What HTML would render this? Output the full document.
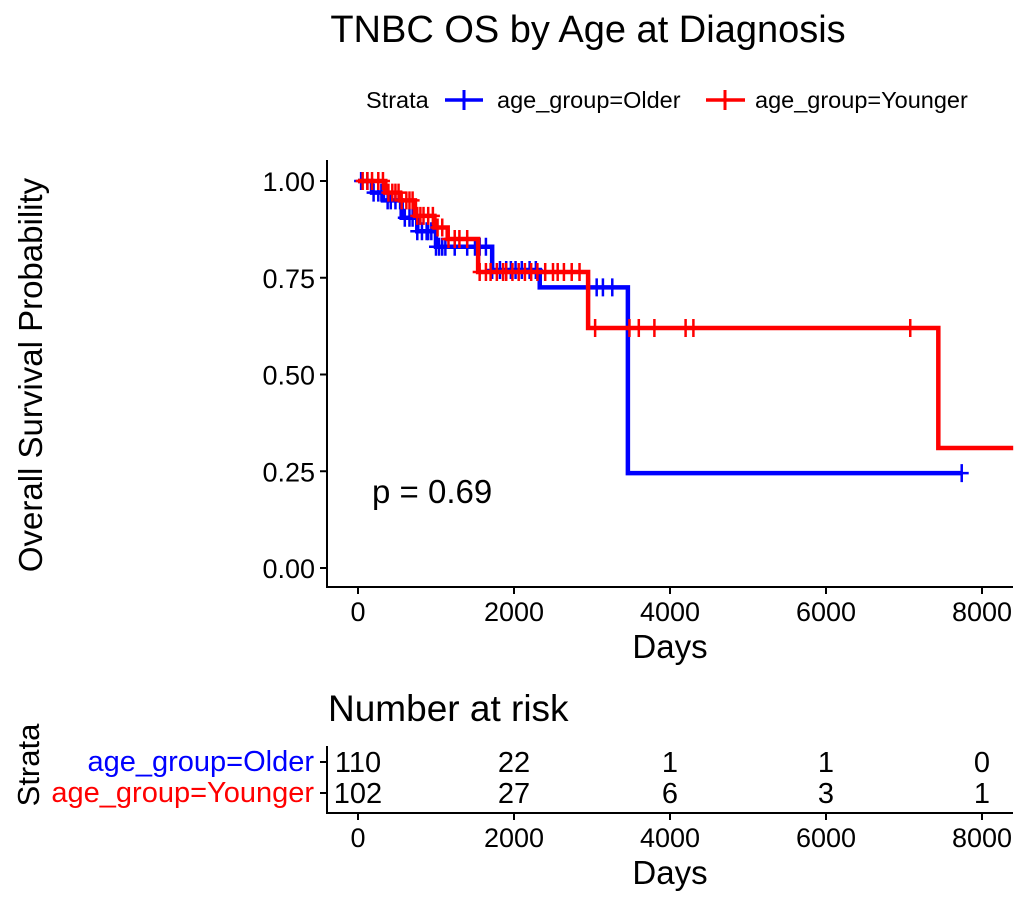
<!DOCTYPE html>
<html><head><meta charset="utf-8"><style>
body{margin:0;background:#fff;font-family:"Liberation Sans",Arial,sans-serif}
svg text{font-family:"Liberation Sans",Arial,sans-serif}
</style></head><body>
<svg id="c" width="1027" height="905" viewBox="0 0 1027 905">
<text x="588" y="42" font-size="38" text-anchor="middle">TNBC OS by Age at Diagnosis</text>
<g font-size="23.5">
<text x="366" y="108">Strata</text>
<g><line x1="445" y1="100" x2="483" y2="100" stroke="#00f" stroke-width="3.5"/><line x1="464" y1="90" x2="464" y2="110" stroke="#00f" stroke-width="3"/><text x="497" y="108">age_group=Older</text></g>
<g><line x1="706" y1="100" x2="745" y2="100" stroke="#f00" stroke-width="3.5"/><line x1="725" y1="90" x2="725" y2="110" stroke="#f00" stroke-width="3"/><text x="755" y="108">age_group=Younger</text></g>
</g>
<text transform="translate(42,375) rotate(-90)" font-size="33" text-anchor="middle">Overall Survival Probability</text>
<text x="670" y="658" font-size="33" text-anchor="middle">Days</text>
<g id="plot"></g>
<text x="372" y="503" font-size="33">p = 0.69</text>
<text x="328" y="721" font-size="37">Number at risk</text>
<text transform="translate(39,765) rotate(-90)" font-size="31" text-anchor="middle">Strata</text>
<text x="314" y="771" font-size="29" fill="#00f" text-anchor="end">age_group=Older</text>
<text x="314" y="802" font-size="29" fill="#f00" text-anchor="end">age_group=Younger</text>
<g id="risk"></g>
<text x="670" y="884" font-size="33" text-anchor="middle">Days</text>
</svg>
<script>
const xTicks=[0,2000,4000,6000,8000];
const yTicks=[0,0.25,0.5,0.75,1];
const yTickLabels=["0.00","0.25","0.50","0.75","1.00"];
const olderTimes=[0,180,320,560,760,1000,1720,2330,3460,7740];
const olderSurv=[1,0.97,0.95,0.905,0.87,0.83,0.77,0.725,0.245,0.245];
const olderCensor=[40,120,200,260,300,380,420,480,540,600,660,700,760,820,880,900,940,1000,1040,1080,1120,1240,1400,1500,1560,1640,1720,1820,1900,1960,2020,2100,2200,2280,2960,3060,3140,3260,7740];
const youngerTimes=[0,350,540,730,980,1150,1540,2950,7440,8400];
const youngerSurv=[1,0.97,0.95,0.91,0.88,0.85,0.765,0.62,0.31,0.31];
const youngerCensor=[60,120,180,260,320,390,440,480,520,560,620,660,700,760,800,840,900,960,1020,1080,1160,1240,1300,1400,1560,1640,1700,1780,1860,1900,1980,2060,2140,2220,2300,2400,2500,2560,2640,2740,2840,3040,3480,3600,3800,4200,4300,7080];
const riskOlder=[110,22,1,1,0];
const riskYounger=[102,27,6,3,1];
const NS="http://www.w3.org/2000/svg";
const X=t=>358+t*0.078, Y=s=>568-s*387;
function mk(p,tag,a){const e=document.createElementNS(NS,tag);for(const k in a)e.setAttribute(k,a[k]);p.appendChild(e);return e;}
const plot=document.getElementById('plot');
mk(plot,'line',{x1:327,y1:160,x2:327,y2:587,stroke:'#000','stroke-width':2});
mk(plot,'line',{x1:326,y1:587,x2:1013,y2:587,stroke:'#000','stroke-width':2});
yTicks.forEach((v,i)=>{
 const l=mk(plot,'line',{x1:320,y1:Y(v),x2:327,y2:Y(v),stroke:'#000','stroke-width':2});
 
 
 const t=mk(plot,'text',{x:315,y:Y(v)+10,'font-size':27,'text-anchor':'end'});t.textContent=yTickLabels[i];
 
 
});
xTicks.forEach(v=>{
 mk(plot,'line',{x1:X(v),y1:587,x2:X(v),y2:594,stroke:'#000','stroke-width':2});
 const t=mk(plot,'text',{x:X(v),y:621,'font-size':27,'text-anchor':'middle'});t.textContent=v;
 
 
});
function stepAt(ts,ss,t){let s=ss[0];for(let i=0;i<ts.length;i++)if(ts[i]<=t)s=ss[i];return s;}
function curve(ts,ss,cs,col,name){
 let d='M'+X(ts[0])+','+Y(ss[0]);
 for(let i=1;i<ts.length;i++){d+=' H'+X(ts[i])+' V'+Y(ss[i]);}
 const p=mk(plot,'path',{d:d,fill:'none',stroke:col,'stroke-width':4.5});
 
 
 cs.forEach(t=>{const s=stepAt(ts,ss,t),x=X(t),y=Y(s);
  const g=mk(plot,'path',{d:`M${x-7},${y} H${x+7} M${x},${y-9} V${y+9}`,stroke:col,'stroke-width':2.5});
  
  });
}
curve(olderTimes,olderSurv,olderCensor,'#00f','older');
curve(youngerTimes,youngerSurv,youngerCensor,'#f00','younger');
const risk=document.getElementById('risk');
mk(risk,'line',{x1:327,y1:746,x2:327,y2:813,stroke:'#000','stroke-width':2});
mk(risk,'line',{x1:326,y1:813,x2:1013,y2:813,stroke:'#000','stroke-width':2});
mk(risk,'line',{x1:320,y1:762,x2:327,y2:762,stroke:'#000','stroke-width':2});
mk(risk,'line',{x1:320,y1:793,x2:327,y2:793,stroke:'#000','stroke-width':2});
xTicks.forEach((v,i)=>{
 mk(risk,'line',{x1:X(v),y1:813,x2:X(v),y2:820,stroke:'#000','stroke-width':2});
 const t=mk(risk,'text',{x:X(v),y:847,'font-size':27,'text-anchor':'middle'});t.textContent=v;
 
 
 const a=mk(risk,'text',{x:X(v),y:772,'font-size':29,'text-anchor':'middle'});a.textContent=riskOlder[i];
 
 
 const b=mk(risk,'text',{x:X(v),y:803,'font-size':29,'text-anchor':'middle'});b.textContent=riskYounger[i];
 
 
});
</script>
</body></html>
